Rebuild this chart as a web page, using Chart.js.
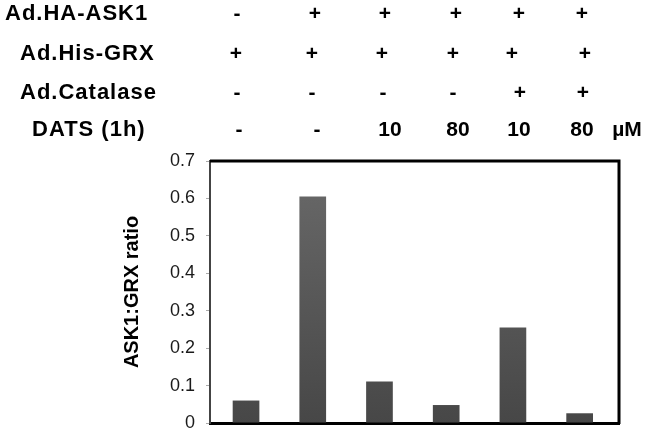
<!DOCTYPE html>
<html>
<head>
<meta charset="utf-8">
<script src="https://cdn.jsdelivr.net/npm/chart.js@4/dist/chart.umd.min.js"></script>
<style>
  html, body { margin: 0; padding: 0; background: #fff; }
  #wrap { position: relative; width: 649px; height: 435px; overflow: hidden; }
  #chartBox { position: absolute; left: 0; top: 0; width: 649px; height: 435px; }
  .lab, .cell { position: absolute; font-family: "Liberation Sans", Arial, sans-serif; font-weight: bold;
    color: #000; white-space: nowrap; line-height: 24px; }
  .lab { font-size: 22px; letter-spacing: 1px; }
  .cell { font-size: 21px; transform: translateX(-50%); text-align: center; }
</style>
</head>
<body>
<div id="wrap">
  <div id="chartBox"><canvas id="c" width="649" height="435"></canvas></div>
</div>
<script>
// ---- data ----
const rowLabels = ["Ad.HA-ASK1", "Ad.His-GRX", "Ad.Catalase", "DATS (1h)"];
const askRow = ["-", "+", "+", "+", "+", "+"];
const grxRow = ["+", "+", "+", "+", "+", "+"];
const catalaseRow = ["-", "-", "-", "-", "+", "+"];
const datsRow = ["-", "-", "10", "80", "10", "80"];
const datsUnit = "µM";
const ratioValues = [0.060, 0.605, 0.111, 0.048, 0.255, 0.026];
const yTicks = [0, 0.1, 0.2, 0.3, 0.4, 0.5, 0.6, 0.7];
const yTitle = "ASK1:GRX ratio";

// ---- header layout ----
const rows = [askRow, grxRow, catalaseRow, datsRow];
const rowCenterY = [14, 54, 93, 130];
const rowLabelX = [5, 20, 20, 32];
const colX = [
  [237, 315, 385, 456, 519, 582],
  [236, 312, 382, 453, 512, 585],
  [237, 312, 383, 453, 520, 583],
  [239, 317, 390, 458, 519, 582]
];
const wrap = document.getElementById('wrap');
rowLabels.forEach((t, r) => {
  const d = document.createElement('div');
  d.className = 'lab';
  d.textContent = t;
  d.style.left = rowLabelX[r] + 'px';
  d.style.top = (rowCenterY[r] - 13) + 'px';
  wrap.appendChild(d);
  rows[r].forEach((v, i) => {
    const c = document.createElement('div');
    c.className = 'cell';
    c.textContent = v;
    c.style.left = colX[r][i] + 'px';
    c.style.top = (rowCenterY[r] - 13) + 'px';
    wrap.appendChild(c);
  });
});
const u = document.createElement('div');
u.className = 'cell';
u.textContent = datsUnit;
u.style.left = '627px';
u.style.top = (rowCenterY[3] - 13) + 'px';
wrap.appendChild(u);

// ---- chart ----
const framePlugin = {
  id: 'frame',
  afterDatasetsDraw(chart) {
    const { ctx, chartArea: a } = chart;
    ctx.save();
    ctx.strokeStyle = '#000';
    ctx.lineWidth = 3;
    ctx.beginPath();
    ctx.moveTo(a.left, a.top);
    ctx.lineTo(a.right, a.top);
    ctx.lineTo(a.right, a.bottom + 1);
    ctx.stroke();
    ctx.restore();
  }
};

new Chart(document.getElementById('c'), {
  type: 'bar',
  data: {
    datasets: [{
      data: ratioValues.map((v, i) => ({ x: i, y: v })),
      backgroundColor(ctx) {
        const a = ctx.chart.chartArea;
        if (!a) return '#555';
        const g = ctx.chart.ctx.createLinearGradient(0, a.top, 0, a.bottom);
        g.addColorStop(0, '#6a6a6a');
        g.addColorStop(1, '#474747');
        return g;
      },
      borderWidth: 0,
      barPercentage: 0.4,
      categoryPercentage: 1.0
    }]
  },
  options: {
    responsive: false,
    animation: false,
    devicePixelRatio: 1,
    layout: { padding: { left: 110, right: 30, top: 161, bottom: 0 } },
    plugins: { legend: { display: false }, tooltip: { enabled: false } },
    scales: {
      x: {
        type: 'linear',
        offset: false,
        min: -0.54,
        max: 5.59,
        ticks: { display: false },
        grid: { display: false, drawTicks: false },
        border: { display: true, color: '#000', width: 3 },
        afterFit(s) { s.height = 12; s.paddingLeft = 0; s.paddingRight = 0; }
      },
      y: {
        min: 0,
        max: 0.7,
        afterBuildTicks(s) { s.ticks = yTicks.map(v => ({ value: v })); },
        ticks: {
          padding: 11,
          color: '#1a1a1a',
          font: { family: '"Liberation Sans", Arial, sans-serif', size: 18 },
          callback: v => String(v)
        },
        grid: { drawOnChartArea: false, drawTicks: true, tickLength: 4, color: '#aaa' },
        border: { display: true, color: '#444', width: 2 },
        title: {
          display: true,
          text: yTitle,
          color: '#000',
          font: { family: '"Liberation Sans", Arial, sans-serif', size: 20, weight: 'bold' },
          padding: { top: 10, bottom: 0 }
        },
        afterFit(s) { s.width = 100; s.paddingTop = 0; s.paddingBottom = 0; }
      }
    }
  },
  plugins: [framePlugin]
});
</script>
</body>
</html>
